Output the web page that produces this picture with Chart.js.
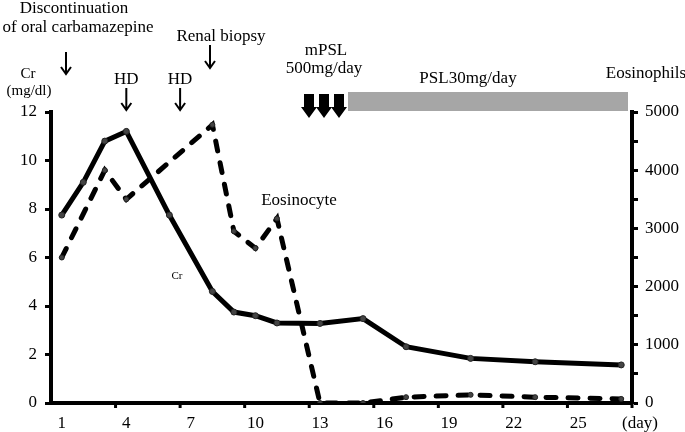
<!DOCTYPE html>
<html>
<head>
<meta charset="utf-8">
<script src="https://cdn.jsdelivr.net/npm/chart.js@4.4.1/dist/chart.umd.min.js"></script>
<style>
html,body{margin:0;padding:0;background:#fff;}
#wrap{width:685px;height:432px;}
</style>
</head>
<body>
<div id="wrap"><canvas id="c" width="685" height="432"></canvas></div>
<script>
// ---- data ----
const crDays = [1, 2, 3, 4, 6, 8, 9, 10, 11, 13, 15, 17, 20, 23, 27];
const crValues = [7.75, 9.1, 10.8, 11.2, 7.75, 4.6, 3.75, 3.6, 3.3, 3.28, 3.48, 2.32, 1.84, 1.7, 1.57];
const eosDays = [1, 3, 4, 8, 9, 10, 11, 13, 15, 17, 20, 23, 27];
const eosValues = [2500, 4000, 3500, 4780, 2950, 2660, 3170, 0, 0, 100, 140, 100, 70];
const xTickLabels = [1, 4, 7, 10, 13, 16, 19, 22, 25];
const crTicks = [0, 2, 4, 6, 8, 10, 12];

const FONT = '"Liberation Serif", "DejaVu Serif", serif';

const annot = {
  id: 'annot',
  afterDraw(chart) {
    const ctx = chart.ctx;
    const x = chart.scales.x;
    const area = chart.chartArea;
    ctx.save();
    // x-axis tick marks between category groups
    ctx.strokeStyle = '#000';
    ctx.lineWidth = 3;
    for (let v = 3.5; v <= 27.5; v += 3) {
      const px = x.getPixelForValue(v);
      ctx.beginPath();
      ctx.moveTo(px, area.bottom);
      ctx.lineTo(px, area.bottom + 5);
      ctx.stroke();
    }
    // texts
    ctx.fillStyle = '#000';
    ctx.textAlign = 'center';
    ctx.textBaseline = 'alphabetic';
    ctx.font = '17px ' + FONT;
    ctx.fillText('Discontinuation', 74, 13);
    ctx.fillText('of oral carbamazepine', 78, 32);
    ctx.fillText('Renal biopsy', 221, 41);
    ctx.fillText('HD', x.getPixelForValue(4), 84);
    ctx.fillText('HD', x.getPixelForValue(6.5), 84);
    ctx.fillText('mPSL', 326, 55);
    ctx.fillText('500mg/day', 324, 73);
    ctx.fillText('PSL30mg/day', 468, 83);
    ctx.fillText('Eosinophils', 646, 78);
    ctx.fillText('Eosinocyte', 299, 205);
    ctx.fillText('(day)', 640, 428);
    ctx.font = '15px ' + FONT;
    ctx.fillText('Cr', 28, 78);
    ctx.fillText('(mg/dl)', 29, 95);
    ctx.font = '11px ' + FONT;
    ctx.fillText('Cr', 177, 279);

    // thin arrows
    ctx.strokeStyle = '#000';
    function thinArrow(ax, y1, y2) {
      ctx.lineWidth = 2;
      ctx.beginPath();
      ctx.moveTo(ax, y1); ctx.lineTo(ax, y2);
      ctx.moveTo(ax - 5, y2 - 7); ctx.lineTo(ax, y2); ctx.lineTo(ax + 5, y2 - 7);
      ctx.stroke();
    }
    thinArrow(66, 52, 74);
    thinArrow(210, 45, 68);
    thinArrow(x.getPixelForValue(4), 88, 110);
    thinArrow(x.getPixelForValue(6.5), 88, 110);

    // gray PSL bar
    ctx.fillStyle = '#a6a6a6';
    ctx.fillRect(348, 92, 280, 19);

    // block arrows (mPSL pulses)
    ctx.fillStyle = '#000';
    [309, 324, 339].forEach(cx => {
      ctx.beginPath();
      ctx.moveTo(cx - 5, 94);
      ctx.lineTo(cx + 5, 94);
      ctx.lineTo(cx + 5, 107);
      ctx.lineTo(cx + 8, 107);
      ctx.lineTo(cx, 118);
      ctx.lineTo(cx - 8, 107);
      ctx.lineTo(cx - 5, 107);
      ctx.closePath();
      ctx.fill();
    });
    ctx.restore();
  }
};

new Chart(document.getElementById('c'), {
  type: 'line',
  data: {
    datasets: [
      {
        label: 'Cr',
        data: crDays.map((d, i) => ({x: d, y: crValues[i]})),
        yAxisID: 'y',
        borderColor: '#000',
        borderWidth: 5,
        pointRadius: 3,
        pointBackgroundColor: '#444',
        pointBorderColor: '#222',
        pointBorderWidth: 1,
        tension: 0,
        fill: false
      },
      {
        label: 'Eosinophils',
        data: eosDays.map((d, i) => ({x: d, y: eosValues[i]})),
        yAxisID: 'y2',
        borderColor: '#000',
        borderWidth: 5,
        borderDash: [10, 12],
        borderCapStyle: 'round',
        pointRadius: 2.5,
        pointBackgroundColor: '#444',
        pointBorderColor: '#222',
        pointBorderWidth: 1,
        tension: 0,
        fill: false
      }
    ]
  },
  options: {
    responsive: false,
    animation: false,
    layout: {padding: {top: 112, left: 0, right: 0, bottom: 0}},
    plugins: {legend: {display: false}, tooltip: {enabled: false}},
    scales: {
      x: {
        type: 'linear',
        min: 0.5,
        max: 27.5,
        afterBuildTicks: s => { s.ticks = xTickLabels.map(v => ({value: v})); },
        afterFit: s => { s.height = 29; },
        ticks: {color: '#000', font: {family: FONT, size: 17}, padding: 10, autoSkip: false, maxRotation: 0},
        grid: {display: true, drawOnChartArea: false, drawTicks: false},
        border: {display: true, color: '#000', width: 4}
      },
      y: {
        position: 'left',
        min: 0,
        max: 12,
        afterBuildTicks: s => { s.ticks = crTicks.map(v => ({value: v})); },
        afterFit: s => { s.width = 51; },
        ticks: {color: '#000', font: {family: FONT, size: 17}, padding: 8},
        grid: {drawOnChartArea: false, drawTicks: true, tickLength: 6, tickWidth: 3, color: '#000'},
        border: {display: true, color: '#000', width: 4}
      },
      y2: {
        position: 'right',
        min: 0,
        max: 5000,
        ticks: {
          stepSize: 500,
          color: '#000',
          font: {family: FONT, size: 17},
          padding: 7,
          callback: v => (v % 1000 === 0 ? String(v) : '')
        },
        afterFit: s => { s.width = 53; },
        grid: {drawOnChartArea: false, drawTicks: true, tickLength: 6, tickWidth: 3, color: '#000'},
        border: {display: true, color: '#000', width: 4}
      }
    }
  },
  plugins: [annot]
});
</script>
</body>
</html>
